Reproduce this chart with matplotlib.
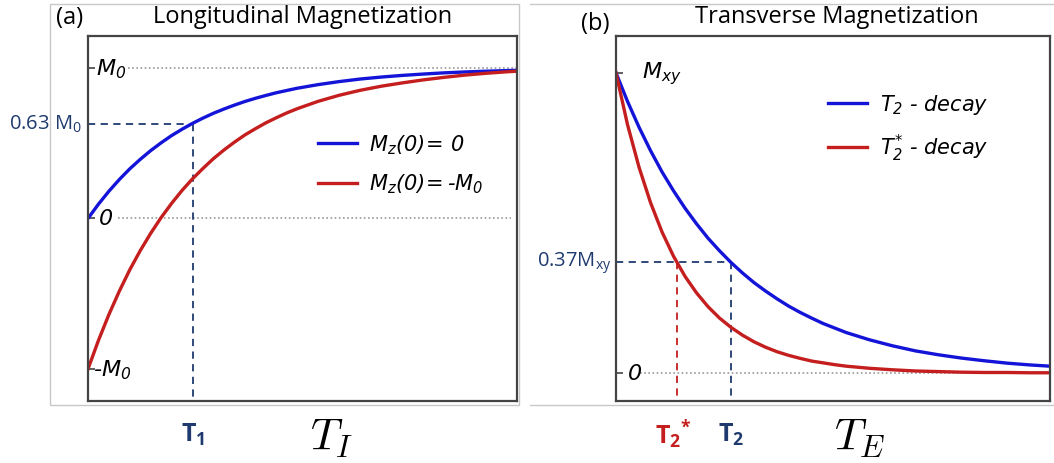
import matplotlib
matplotlib.use("Agg")
import matplotlib.pyplot as plt
from matplotlib.patches import Rectangle
from matplotlib.lines import Line2D

plt.rcParams['font.family'] = ['DejaVu Sans']
plt.rcParams['mathtext.fontset'] = 'custom'
plt.rcParams['mathtext.rm'] = 'DejaVu Sans:italic'
plt.rcParams['mathtext.it'] = 'DejaVu Sans:italic'
plt.rcParams['mathtext.sf'] = 'Open Sans'
plt.rcParams['mathtext.bf'] = 'Open Sans:bold'

# (a) longitudinal recovery, time in units of T1
t_long = [0, 0.1, 0.2, 0.3, 0.4, 0.5, 0.6, 0.7, 0.8, 0.9, 1.0, 1.1, 1.2,
          1.3, 1.4, 1.5, 1.6, 1.7, 1.8, 1.9, 2.0, 2.2, 2.4, 2.6, 2.8, 3.0,
          3.2, 3.4, 3.6, 3.8, 4.0, 4.1]
mz_zero = [0, 0.095, 0.181, 0.259, 0.330, 0.393, 0.451, 0.503, 0.551, 0.593,
           0.632, 0.667, 0.699, 0.727, 0.753, 0.777, 0.798, 0.817, 0.835,
           0.850, 0.865, 0.889, 0.909, 0.926, 0.939, 0.950, 0.959, 0.967,
           0.973, 0.978, 0.982, 0.984]
mz_minus = [-1, -0.81, -0.638, -0.482, -0.34, -0.213, -0.098, 0.007, 0.101,
            0.187, 0.264, 0.333, 0.398, 0.455, 0.507, 0.555, 0.596, 0.635,
            0.669, 0.701, 0.729, 0.778, 0.818, 0.851, 0.878, 0.900, 0.920,
            0.937, 0.952, 0.964, 0.974, 0.978]

# (b) transverse decay, time in units of T2
t_trans = [0, 0.1, 0.2, 0.3, 0.4, 0.5, 0.6, 0.7, 0.8, 0.9, 1.0, 1.1, 1.2,
           1.3, 1.4, 1.5, 1.6, 1.7, 1.8, 1.9, 2.0, 2.2, 2.4, 2.6, 2.8, 3.0,
           3.2, 3.4, 3.6, 3.77]
mxy_t2 = [1, 0.905, 0.819, 0.741, 0.670, 0.607, 0.549, 0.497, 0.449, 0.407,
          0.368, 0.333, 0.301, 0.273, 0.247, 0.223, 0.202, 0.183, 0.165,
          0.150, 0.135, 0.111, 0.091, 0.074, 0.061, 0.050, 0.041, 0.033,
          0.027, 0.023]
mxy_t2star = [1, 0.828, 0.686, 0.568, 0.470, 0.389, 0.322, 0.267, 0.221,
              0.183, 0.152, 0.126, 0.104, 0.086, 0.071, 0.059, 0.049, 0.040,
              0.034, 0.028, 0.023, 0.016, 0.011, 0.007, 0.005, 0.003, 0.002,
              0.002, 0.001, 0.001]

T1 = 1.0
level_63 = 0.63
T2 = 1.0
T2star = 0.53
level_37 = 0.37

blue = '#1414d8'
red = '#c41e1e'
navy = '#1f3a6e'
spine = '#444444'
gray = '#999999'
frame = '#c8c8c8'

fig = plt.figure(figsize=(10.54, 4.64), dpi=100)

# screenshot frame lines
fig.add_artist(Rectangle((0.0474, 0.125), 0.445, 0.864, transform=fig.transFigure,
                         fill=False, edgecolor=frame, lw=1))
fig.add_artist(Line2D([0.503, 1.0], [0.989, 0.989], transform=fig.transFigure, color=frame, lw=1))
fig.add_artist(Line2D([0.503, 1.0], [0.125, 0.125], transform=fig.transFigure, color=frame, lw=1))

ax1 = fig.add_axes([0.0835, 0.1336, 0.407, 0.787])
ax2 = fig.add_axes([0.5844, 0.1336, 0.4118, 0.787])

for ax in (ax1, ax2):
    for s in ax.spines.values():
        s.set_color(spine)
        s.set_linewidth(1.6)
    ax.set_xticks([])
    ax.tick_params(axis='y', direction='in', length=5, width=1.2, color=spine,
                   labelleft=False)

dash = (0, (4, 3))
dots = (0, (1, 1.5))

# ---- panel (a)
ax1.set_xlim(0, 4.1)
ax1.set_ylim(-1.213, 1.213)
ax1.set_yticks([-1, 0, 1])
ax1.plot([0.38, 4.1], [1, 1], color=gray, lw=1.2, ls=dots)
ax1.plot([0.29, 4.04], [0, 0], color=gray, lw=1.2, ls=dots)
ax1.plot([0, T1], [level_63, level_63], color=navy, lw=1.3, ls=dash)
ax1.plot([T1, T1], [level_63, -1.213], color=navy, lw=1.3, ls=dash)
ax1.plot(t_long, mz_zero, color=blue, lw=2.4, label=r'$M_z(0)\!=\,0$')
ax1.plot(t_long, mz_minus, color=red, lw=2.4, label=r'$M_z(0)\!=$-$M_0$')

ax1.text(0.08, 1, r'$M_0$', fontsize=16, va='center', ha='left')
ax1.text(0.1, 0, r'$0$', fontsize=16, va='center', ha='left')
ax1.text(0.05, -1, r'-$M_0$', fontsize=16, style='italic', va='center', ha='left')
ax1.text(-0.06, level_63, r'0.63 $\mathsf{M_0}$', fontsize=14.5, color=navy,
         va='center', ha='right', family='Open Sans')

xt1 = ax1.get_xaxis_transform()
ax1.text(T1, -0.09, r'$\mathbf{T_1}$', fontsize=18, color=navy, ha='center',
         va='center', transform=xt1)
ax1.text(2.33, -0.1, r'$T_I$', fontsize=32, math_fontfamily='cm', ha='center',
         va='center', transform=xt1)

for t in ax1.legend(loc='upper left', bbox_to_anchor=(0.535, 0.735), frameon=False,
                    fontsize=15, handlelength=1.9, handletextpad=0.55, borderpad=0,
                    borderaxespad=0, labelspacing=0.75).get_texts():
    t.set_style('italic')

fig.text(0.0664, 1 - 24 / 464, '(a)', fontsize=17, family='Open Sans',
         ha='center', va='baseline')
fig.text(0.2875, 1 - 23 / 464, 'Longitudinal Magnetization', fontsize=17,
         family='Open Sans', ha='center', va='baseline')

# ---- panel (b)
ax2.set_xlim(0, 3.77)
ax2.set_ylim(-0.093, 1.123)
ax2.set_yticks([0, 1])
ax2.plot([0.21, 3.77], [0, 0], color=gray, lw=1.2, ls=dots)
ax2.plot([0, T2], [level_37, level_37], color=navy, lw=1.3, ls=dash)
ax2.plot([T2, T2], [level_37, -0.093], color=navy, lw=1.3, ls=dash)
ax2.plot([T2star, T2star], [level_37, -0.093], color=red, lw=1.3, ls=dash)
ax2.plot(t_trans, mxy_t2, color=blue, lw=2.4, label=r'$T_2$ - decay')
ax2.plot(t_trans, mxy_t2star, color=red, lw=2.4, label=r'$T_2^{*}$ - decay')

ax2.text(0.23, 1.0, r'$M_{xy}$', fontsize=16, va='center', ha='left')
ax2.text(0.1, 0, r'$0$', fontsize=16, va='center', ha='left')
ax2.text(-0.035, level_37, r'0.37$\mathsf{M_{xy}}$', fontsize=14.5, color=navy,
         va='center', ha='right', family='Open Sans')

xt2 = ax2.get_xaxis_transform()
ax2.text(T2star - 0.03, -0.09, r'$\mathbf{T_2}^{\mathbf{*}}$', fontsize=18, color=red,
         ha='center', va='center', transform=xt2)
ax2.text(T2, -0.09, r'$\mathbf{T_2}$', fontsize=18, color=navy, ha='center',
         va='center', transform=xt2)
ax2.text(2.12, -0.1, r'$T_E$', fontsize=32, math_fontfamily='cm', ha='center',
         va='center', transform=xt2)

for t in ax2.legend(loc='upper left', bbox_to_anchor=(0.488, 0.845),
                    frameon=False, fontsize=15, handlelength=1.9,
                    handletextpad=0.6, borderpad=0, borderaxespad=0,
                    labelspacing=0.75).get_texts():
    t.set_style('italic')

fig.text(0.5645, 1 - 30 / 464, '(b)', fontsize=17, family='Open Sans',
         ha='center', va='baseline')
fig.text(0.794, 1 - 23 / 464, 'Transverse Magnetization', fontsize=17,
         family='Open Sans', ha='center', va='baseline')

fig.savefig('out.png', dpi=100)
